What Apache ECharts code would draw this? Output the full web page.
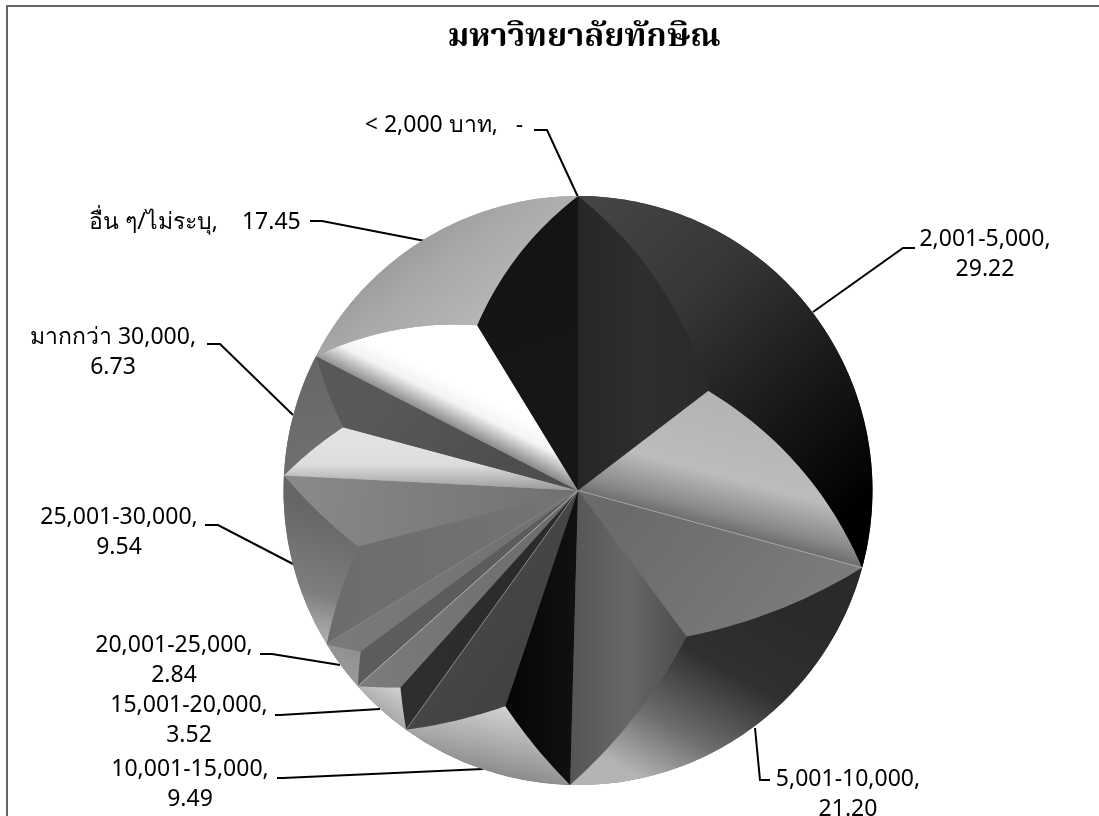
<!DOCTYPE html>
<html><head><meta charset="utf-8">
<style>html,body{margin:0;padding:0;background:#fff}#c{width:1099px;height:816px}</style>
<script src="https://cdn.jsdelivr.net/npm/echarts@6/dist/echarts.min.js"></script>
</head><body><div id="c"></div>
<script>
// ---- data ----
const chartTitle = 'มหาวิทยาลัยทักษิณ';
const categories = ['< 2,000 บาท','2,001-5,000','5,001-10,000','10,001-15,000','15,001-20,000','20,001-25,000','25,001-30,000','มากกว่า 30,000','อื่น ๆ/ไม่ระบุ'];
const values = [0,29.22,21.20,9.49,3.52,2.84,9.54,6.73,17.45];
const valueTexts = ['-','29.22','21.20','9.49','3.52','2.84','9.54','6.73','17.45'];

// ---- layout & style (not data) ----
const CX = 578, CY = 490.5, R = 294.5;
const FONT = '"Noto Sans","DejaVu Sans",sans-serif';
// label anchor [x, y] and leader polyline per category
const labelBox = [
  [444,125],[985,254],[848,794],[190,784],[189,720],[174,660],[119,532],[113,352],[195,222]
];
const labelJoin = ['   ','\n','\n','\n','\n','\n','\n','\n','    '];
const leader = [
  [[534,130],[547,130],[578,197]],
  [[915,248],[903,248],[813,312]],
  [[770,780],[760,780],[755,728]],
  [[277,778],[283,778],[483,769]],
  [[275,715],[280,715],[380,709]],
  [[260,654],[272,654],[340,665]],
  [[205,525],[218,525],[293,564]],
  [[207,344],[220,344],[293,415]],
  [[310,221],[322,221],[425,241]]
];
const lin = (x,y,x2,y2,...cs) => ({type:'linear',x,y,x2,y2,global:false,
  colorStops:cs.map((c,i)=>({offset:Array.isArray(c)?c[0]:i/(cs.length-1),color:Array.isArray(c)?c[1]:c}))});
// per-slice facets: a = start-side inner, b = end-side inner, c = outer rim, bend = curvature, edge = seam colour
const facets = [
  null,
  {a:lin(0,.5,1,.5,'#262626','#2e2e2e','#2a2a2a'), b:lin(.61,.13,.5,.8,[0,'#b4b4b4'],[.55,'#bcbcbc'],[.85,'#8a8a8a'],[1,'#686868']), c:lin(.05,0,1,.8,[0,'#454545'],[.35,'#363636'],[.7,'#181818'],[1,'#000000']), bend:.16, base:'#333'},
  {a:lin(.2,0,.8,1,'#6a6a6a','#7c7c7c'), b:lin(0,.5,1,.5,'#555555','#676767','#4c4c4c'), c:lin(.65,.12,.28,1,[0,'#2a2a2a'],[.38,'#303030'],[.72,'#6c6c6c'],[1,'#b4b4b4']), bend:.09, base:'#666', edge:'#c8c8c8'},
  {a:lin(0,.5,1,.5,'#050505','#111111'), b:lin(0,.3,1,.8,'#4c4c4c','#3e3e3e'), c:lin(.55,0,.45,1,'#d0d0d0','#a8a8a8','#7e7e7e'), bend:.05, base:'#444'},
  {a:lin(0,.5,1,.5,'#2e2e2e','#2a2a2a'), b:lin(0,.5,1,.5,'#7c7c7c','#6a6a6a'), c:lin(.8,0,.2,1,'#d0d0d0','#8c8c8c'), bend:.02, base:'#666', edge:'#b4b4b4'},
  {a:lin(0,.5,1,.5,'#5c5c5c','#5c5c5c'), b:lin(0,.5,1,.5,'#7a7a7a','#707070'), c:lin(.8,0,.2,1,'#8e8e8e','#a0a0a0'), bend:.02, base:'#666', edge:'#e0e0e0'},
  {a:lin(0,.5,1,.5,'#6c6c6c','#747474'), b:lin(0,.3,1,.7,'#8a8a8a','#707070'), c:lin(.8,.25,.3,1,[0,'#666666'],[.6,'#7e7e7e'],[1,'#b8b8b8']), bend:.05, base:'#777', edge:'#8e8e8e'},
  {a:lin(.5,.2,.5,1,'#e2e2e2','#dcdcdc','#9a9a9a'), b:lin(.3,.2,.7,.8,'#585858','#4e4e4e'), c:lin(.3,0,.7,1,'#666666','#707070'), bend:.05, base:'#777'},
  {a:lin(.5,.6,.57,.38,[0,'#8a8a8a'],[.55,'#f4f4f4'],[1,'#ffffff']), b:lin(0,0,1,1,'#141414','#161616'), c:lin(.65,.85,.25,.05,'#b8b8b8','#a8a8a8','#8c8c8c'), bend:.13, base:'#999'}
];

// ---- geometry from values ----
const total = values.reduce((s,v)=>s+v,0);
let acc = 0;
const sliceAngles = values.map((v,i)=>{const s=acc; acc+=v/total*360; return [s,acc,i];});
const rad = d=>d*Math.PI/180;
const pol = (a,r)=>[CX+r*Math.sin(rad(a)),CY-r*Math.cos(rad(a))];

function curve(p,q,bend){
  const mx=(p[0]+q[0])/2,my=(p[1]+q[1])/2,dx=q[0]-p[0],dy=q[1]-p[1];
  let nx=-dy,ny=dx;
  if((mx+nx-CX)*(mx-CX)+(my+ny-CY)*(my-CY) < (mx-CX)*(mx-CX)+(my-CY)*(my-CY)){nx=-nx;ny=-ny;}
  const c=[mx+nx*bend,my+ny*bend],pts=[];
  for(let k=0;k<=24;k++){const t=k/24,u=1-t;
    pts.push([u*u*p[0]+2*u*t*c[0]+t*t*q[0],u*u*p[1]+2*u*t*c[1]+t*t*q[1]]);}
  return pts;
}
function renderFacet(params,api){
  const s=api.value(0),e=api.value(1),f=facets[api.value(2)];
  if(!f||e-s<=0) return {type:'group',children:[]};
  const h=(e-s)/2,mid=s+h,v=pol(mid,R/(1+Math.sin(rad(Math.min(h,90)))));
  const ps=pol(s,R),pe=pol(e,R),C=[CX,CY];
  const c1=curve(ps,v,f.bend),c2=curve(v,pe,f.bend);
  const arc=[];for(let a=e;a>s;a-=0.5)arc.push(pol(a,R));
  const poly=(pts,fill)=>({type:'polygon',shape:{points:pts},style:{fill,stroke:null},silent:true});
  const ch=[poly([C,...c1],f.a),poly([C,...c2],f.b),poly([...c1,...c2.slice(1),...arc],f.c)];
  if(f.edge)ch.push({type:'line',shape:{x1:CX,y1:CY,x2:ps[0],y2:ps[1]},style:{stroke:f.edge,lineWidth:.8,opacity:.8},silent:true});
  return {type:'group',children:ch};
}
const pieData = categories.map((n,i)=>({name:n,value:values[i],
  itemStyle:{color:facets[i]?facets[i].base:'#333'},
  label:{formatter:n+','+labelJoin[i]+valueTexts[i]}}));

const chart = echarts.init(document.getElementById('c'),null,{renderer:'canvas'});
chart.setOption({
  animation:false, backgroundColor:'#fff',
  title:{text:chartTitle,left:579,top:19,textAlign:'center',textStyle:{fontFamily:'"Noto Serif Thai","Noto Sans Thai","Liberation Serif",serif',fontWeight:'bold',fontSize:32.5,color:'#000'}},
  graphic:[{type:'rect',shape:{x:7,y:6,width:1110,height:830},style:{fill:'none',stroke:'#666',lineWidth:2},silent:true,z:-1}],
  series:[
    {type:'pie',center:[CX,CY],radius:[0,R],startAngle:90,clockwise:true,sort:null,minAngle:0,stillShowZeroSum:true,
     avoidLabelOverlap:false,z:2,data:pieData,silent:true,
     label:{show:true,position:'outside',fontFamily:FONT,fontSize:23,color:'#000',align:'center',lineHeight:30},
     labelLine:{show:true,lineStyle:{color:'#000',width:2}},
     labelLayout:(p)=>{const i=p.dataIndex;return {x:labelBox[i][0],y:labelBox[i][1],align:'center',verticalAlign:'middle',labelLinePoints:leader[i]};}
    },
    {type:'custom',coordinateSystem:'none',z:3,silent:true,data:sliceAngles,renderItem:renderFacet,encode:{}}
  ]
});
</script></body></html>
